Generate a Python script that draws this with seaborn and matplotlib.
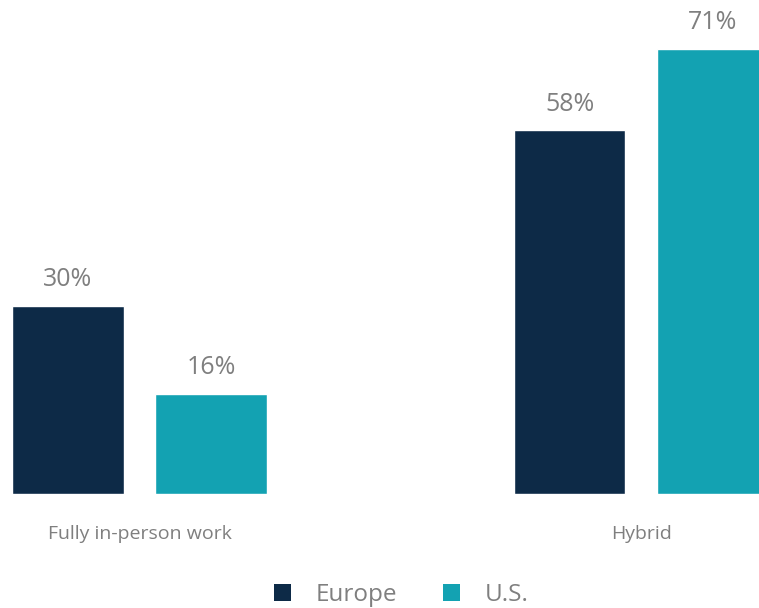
import matplotlib
matplotlib.use("Agg")
import matplotlib.pyplot as plt
from matplotlib.patches import Patch
import seaborn as sns
import pandas as pd

categories = ["Fully in-person work", "Hybrid"]
regions = ["Europe", "U.S."]
europe_values = [30, 58]
us_values = [16, 71]
palette = {"Europe": "#0D2A47", "U.S.": "#13A2B2"}

df = pd.DataFrame({
    "category": categories * 2,
    "region": ["Europe"] * len(categories) + ["U.S."] * len(categories),
    "share": europe_values + us_values,
})

sns.set_theme(style="white")
plt.rcParams["font.family"] = ["Open Sans", "DejaVu Sans"]
text_grey = "#7F7F7F"

fig = plt.figure(figsize=(7.59, 6.08), dpi=100)
ax = fig.add_axes([0, 114 / 608, 1, 494 / 608])

sns.barplot(data=df, x="category", y="share", hue="region", order=categories,
            hue_order=regions, palette=palette, width=0.57, gap=0.22,
            saturation=1, legend=False, ax=ax)

for container in ax.containers:
    ax.bar_label(container, labels=[f"{v:.0f}%" for v in container.datavalues],
                 padding=10, fontsize=18, color=text_grey)

ax.set_xlim(-0.278, 1.235)
ax.set_ylim(0, 78.8)
ax.set_xlabel("")
ax.set_ylabel("")
ax.set_yticks([])
ax.tick_params(axis="x", length=0, pad=22, labelsize=14, labelcolor=text_grey)
for side in ax.spines.values():
    side.set_visible(False)

handles = [Patch(facecolor=palette[r], edgecolor="none", label=r) for r in regions]
fig.legend(handles=handles, loc="center", bbox_to_anchor=(0.529, 0.021),
           ncol=2, frameon=False, fontsize=17.5, labelcolor=text_grey,
           handlelength=0.7, handleheight=0.7, handletextpad=1.0,
           columnspacing=1.9)

fig.savefig("out.png", dpi=100)
